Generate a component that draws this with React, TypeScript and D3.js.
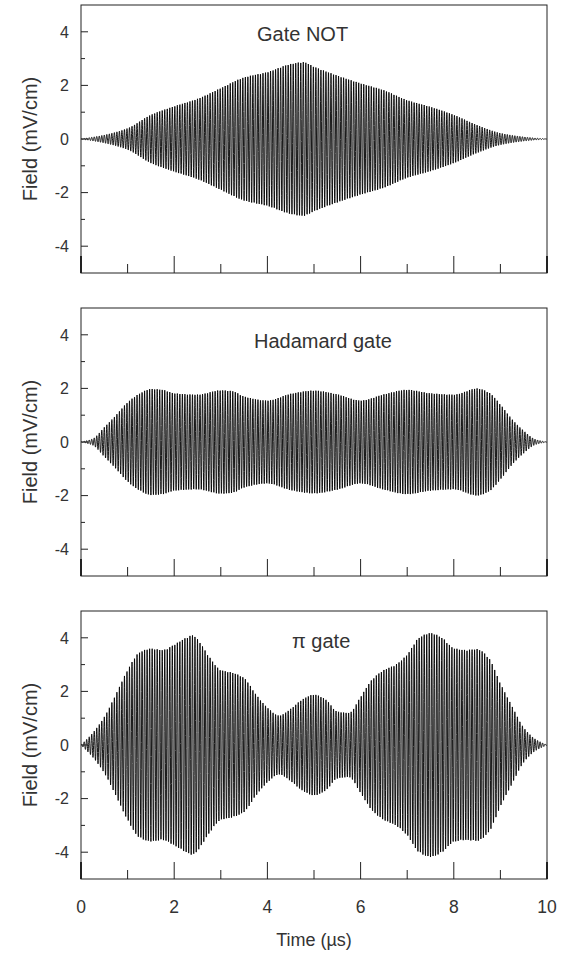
import React from "react";
import * as d3 from "d3";

// ---- data ----
const timeDomain = [0, 10];
const fieldDomain = [-5, 5];
const xTickLabels = [0, 2, 4, 6, 8, 10];
const yTickLabels = [-4, -2, 0, 2, 4];
const carrierCyclesPerUs = 18.5;

// Gate NOT envelope (mV/cm) at times (µs)
const notT = [0, 0.5, 1, 1.5, 2, 2.5, 3, 3.5, 4, 4.5, 4.77, 5, 5.5, 6, 6.5, 7, 7.5, 8, 8.5, 9, 9.5, 10];
const notA = [0, 0.15, 0.4, 0.9, 1.22, 1.5, 1.9, 2.3, 2.5, 2.8, 2.87, 2.7, 2.37, 2.08, 1.82, 1.45, 1.2, 0.9, 0.52, 0.22, 0.08, 0];

// Hadamard gate envelope
const hadT = [0, 0.25, 0.5, 0.75, 1, 1.25, 1.5, 1.75, 2, 2.5, 3, 3.25, 3.5, 4, 4.5, 5, 5.5, 6, 6.5, 7, 7.5, 8, 8.5, 8.75, 9, 9.25, 9.5, 9.75, 10];
const hadA = [0, 0.12, 0.55, 1.0, 1.48, 1.8, 1.98, 1.95, 1.82, 1.77, 1.93, 1.9, 1.7, 1.55, 1.8, 1.92, 1.78, 1.55, 1.78, 1.95, 1.82, 1.77, 2.0, 1.85, 1.4, 0.85, 0.42, 0.1, 0];

// π gate envelope
const piT = [0, 0.25, 0.5, 0.75, 1, 1.25, 1.5, 1.75, 2, 2.25, 2.4, 2.5, 2.75, 3, 3.25, 3.5, 3.75, 4, 4.25, 4.5, 4.75, 5, 5.25, 5.5, 5.75, 6, 6.25, 6.5, 6.75, 7, 7.25, 7.5, 7.75, 8, 8.25, 8.5, 8.75, 9, 9.25, 9.5, 9.75, 10];
const piA = [0, 0.45, 1.05, 1.9, 2.8, 3.45, 3.6, 3.55, 3.75, 4.0, 4.1, 3.95, 3.3, 2.8, 2.7, 2.5, 1.9, 1.4, 1.1, 1.35, 1.7, 1.88, 1.7, 1.25, 1.2, 1.8, 2.45, 2.8, 3.0, 3.38, 4.0, 4.18, 4.0, 3.62, 3.55, 3.58, 3.25, 2.3, 1.45, 0.65, 0.22, 0];

const panelTitles = ["Gate NOT", "Hadamard gate", "\u03c0 gate"];
const yAxisTitle = "Field (mV/cm)";
const xAxisTitle = "Time (\u00b5s)";

// ---- layout ----
const W = 569;
const H = 954;
const left = 81;
const right = 547;
const panelTops = [5, 308, 611];
const panelH = 268;
const titlePos = [
  { x: 257, y: 41 },
  { x: 254, y: 348 },
  { x: 292, y: 648 },
];
const textColor = "#333";
const font = "Liberation Sans, Arial, Helvetica, sans-serif";

// monotone cubic interpolation of envelope
function makeEnvelope(ts: number[], as: number[]) {
  const n = ts.length;
  const d: number[] = [];
  for (let i = 0; i < n - 1; i++) d.push((as[i + 1] - as[i]) / (ts[i + 1] - ts[i]));
  const m: number[] = new Array(n).fill(0);
  m[0] = d[0];
  m[n - 1] = d[n - 2];
  for (let i = 1; i < n - 1; i++) {
    if (d[i - 1] * d[i] <= 0) m[i] = 0;
    else {
      const w1 = 2 * (ts[i + 1] - ts[i]) + (ts[i] - ts[i - 1]);
      const w2 = (ts[i + 1] - ts[i]) + 2 * (ts[i] - ts[i - 1]);
      m[i] = (w1 + w2) / (w1 / d[i - 1] + w2 / d[i]);
    }
  }
  return (t: number) => {
    let i = d3.bisectRight(ts, t) - 1;
    if (i < 0) i = 0;
    if (i > n - 2) i = n - 2;
    const h = ts[i + 1] - ts[i];
    const s = (t - ts[i]) / h;
    const h00 = 2 * s ** 3 - 3 * s ** 2 + 1;
    const h10 = s ** 3 - 2 * s ** 2 + s;
    const h01 = -2 * s ** 3 + 3 * s ** 2;
    const h11 = s ** 3 - s ** 2;
    return h00 * as[i] + h10 * h * m[i] + h01 * as[i + 1] + h11 * h * m[i + 1];
  };
}

const envelopes = [makeEnvelope(notT, notA), makeEnvelope(hadT, hadA), makeEnvelope(piT, piA)];

function Panel({ idx }: { idx: number }) {
  const top = panelTops[idx];
  const x = d3.scaleLinear().domain(timeDomain).range([left, right]);
  const y = d3.scaleLinear().domain(fieldDomain).range([top + panelH, top]);
  const env = envelopes[idx];
  const N = 4000;
  const pts: [number, number][] = [];
  for (let i = 0; i <= N; i++) {
    const t = (timeDomain[1] * i) / N;
    pts.push([t, env(t) * Math.sin(2 * Math.PI * carrierCyclesPerUs * t)]);
  }
  const line = d3
    .line<[number, number]>()
    .x((p) => x(p[0]))
    .y((p) => y(p[1]));
  const yTicks = d3.range(-4, 5, 1);
  const xTicks = d3.range(1, 10, 1);
  return (
    <g>
      <path d={line(pts) || ""} fill="none" stroke="#000" strokeWidth={0.9} />
      <rect x={left} y={top} width={right - left} height={panelH} fill="none" stroke="#222" strokeWidth={1} />
      {yTicks.map((v) => (
        <line key={"y" + v} x1={left} x2={left + (v % 2 === 0 ? 7 : 4)} y1={y(v)} y2={y(v)} stroke="#222" strokeWidth={1} />
      ))}
      {xTicks.map((v) => (
        <line key={"x" + v} x1={x(v)} x2={x(v)} y1={top + panelH} y2={top + panelH - (v % 2 === 0 ? 17 : 9)} stroke="#222" strokeWidth={1} />
      ))}
      <line x1={left} x2={left} y1={top + panelH} y2={top + panelH - 17} stroke="#222" strokeWidth={2} />
      <line x1={right} x2={right} y1={top + panelH} y2={top + panelH - 17} stroke="#222" strokeWidth={2} />
      {yTickLabels.map((v) => (
        <text key={"yl" + v} x={69} y={y(v)} dy="0.36em" textAnchor="end" fontSize={16} fill={textColor} fontFamily={font}>
          {v}
        </text>
      ))}
      <text
        transform={`translate(37,${y(0)}) rotate(-90)`}
        textAnchor="middle"
        fontSize={20}
        fill={textColor}
        fontFamily={font}
      >
        {yAxisTitle}
      </text>
      <text x={titlePos[idx].x} y={titlePos[idx].y} fontSize={20} fill={textColor} fontFamily={font}>
        {panelTitles[idx]}
      </text>
      {idx === 2 &&
        xTickLabels.map((v) => (
          <text key={"xl" + v} x={x(v)} y={913} textAnchor="middle" fontSize={17.5} fill={textColor} fontFamily={font}>
            {v}
          </text>
        ))}
      {idx === 2 && (
        <text x={x(5)} y={946} textAnchor="middle" fontSize={18} fill={textColor} fontFamily={font}>
          {xAxisTitle}
        </text>
      )}
    </g>
  );
}

export default function App() {
  return (
    <svg width={W} height={H} style={{ position: "absolute", left: 0, top: 0, background: "#fff" }}>
      <rect width={W} height={H} fill="#fff" />
      {[0, 1, 2].map((i) => (
        <Panel key={i} idx={i} />
      ))}
    </svg>
  );
}
